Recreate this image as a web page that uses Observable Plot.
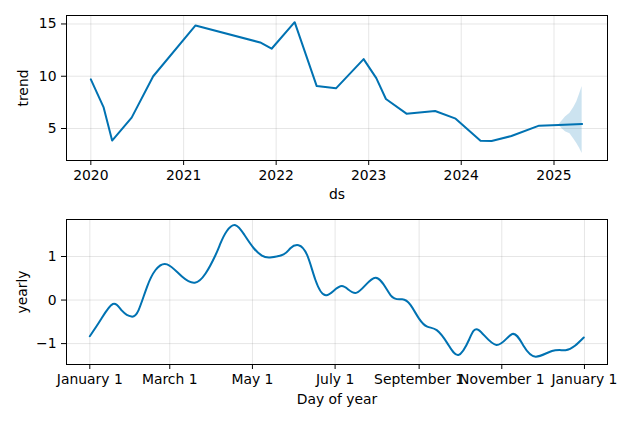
<!DOCTYPE html>
<html><head><meta charset="utf-8">
<script src="https://cdn.jsdelivr.net/npm/d3@7"></script>
<script src="https://cdn.jsdelivr.net/npm/@observablehq/plot@0.6"></script>
<style>
body{margin:0;background:#fff;}
#chart{width:634px;height:422px;}
svg{display:block;}
</style></head><body><div id="chart"></div>
<script>
// ---- Trend panel data ----
const trendDates = ["2020-01-01","2020-02-20","2020-03-25","2020-06-10","2020-09-03","2021-02-17","2021-10-30","2021-12-14","2022-03-15","2022-06-10","2022-08-25","2022-12-12","2023-01-31","2023-03-10","2023-05-30","2023-09-20","2023-12-10","2024-03-17","2024-04-30","2024-07-17","2024-11-03","2025-01-19","2025-04-22"];
const trendValues = [9.7,7.05,3.85,6.04,10.0,14.86,13.23,12.63,15.17,9.06,8.84,11.64,9.82,7.82,6.42,6.67,5.94,3.84,3.81,4.28,5.27,5.33,5.43];
const bandDates = ["2025-01-19","2025-02-01","2025-02-15","2025-03-05","2025-03-20","2025-04-01","2025-04-12","2025-04-22"];
const bandUpper = [5.33,5.7,6.1,6.45,7.0,7.55,8.3,9.03];
const bandLower = [5.33,5.0,4.7,4.5,4.0,3.56,3.1,2.62];
const trendXTicks = ["2020-01-01","2021-01-01","2022-01-01","2023-01-01","2024-01-01","2025-01-01"];
const trendYTicks = [5,10,15];

// ---- Yearly panel data ----
const yearlyDays = [0,7.9,17,23.9,30.8,36,42.3,48.5,57,68,77.5,85.4,92.7,96.4,101,107.5,114,121,127,133,143,148,154,160.4,166.5,174.6,186,197,210.8,222,230.5,236.6,242.8,249,256,264,272,280,287,300,311.7,320,329,341,351,358,364.5];
const yearlyValues = [-0.83,-0.46,-0.09,-0.25,-0.38,-0.23,0.31,0.69,0.82,0.54,0.40,0.61,1.03,1.30,1.58,1.72,1.5,1.19,1.02,0.98,1.05,1.19,1.26,1.03,0.46,0.11,0.32,0.17,0.51,0.11,0.02,-0.11,-0.42,-0.61,-0.69,-1.0,-1.26,-0.90,-0.69,-1.03,-0.78,-1.05,-1.30,-1.17,-1.15,-1.05,-0.86];
const dayTicks = ["2017-01-01","2017-03-01","2017-05-01","2017-07-01","2017-09-01","2017-11-01","2018-01-01"];
const dayTickLabels = ["January 1","March 1","May 1","July 1","September 1","November 1","January 1"];
const yearlyYTicks = [-1,0,1];

const blue = "#0072B2";
const font = {fontFamily: "DejaVu Sans", fontSize: "13.9px", color: "black", background: "white"};
const gridStyle = {stroke: "gray", strokeOpacity: 0.2, strokeWidth: 1};

const trend = trendDates.map((d, i) => ({date: new Date(d), value: trendValues[i]}));
const band = bandDates.map((d, i) => ({date: new Date(d), upper: bandUpper[i], lower: bandLower[i]}));
const tX = trendXTicks.map(d => new Date(d));

const trendPlot = Plot.plot({
  width: 634, height: 211,
  marginTop: 15, marginBottom: 51, marginLeft: 66, marginRight: 27,
  style: font,
  x: {type: "utc", domain: [new Date("2019-09-27"), new Date("2025-07-31")]},
  y: {domain: [1.94, 15.81]},
  marks: [
    Plot.gridX(tX, gridStyle),
    Plot.gridY(trendYTicks, gridStyle),
    Plot.areaY(band, {x: "date", y1: "lower", y2: "upper", fill: blue, fillOpacity: 0.2}),
    Plot.line(trend, {x: "date", y: "value", stroke: blue, strokeWidth: 2}),
    Plot.frame({stroke: "black", strokeWidth: 1}),
    Plot.axisX(tX, {tickFormat: d => String(d.getUTCFullYear()), tickSize: 5, tickPadding: 5, label: "ds", labelAnchor: "center", labelArrow: "none", labelOffset: 38}),
    Plot.axisY(trendYTicks, {tickSize: 5, tickPadding: 5, label: "trend", labelAnchor: "center", labelArrow: "none", labelOffset: 48})
  ]
});

const dayDate = d => new Date(Date.UTC(2017, 0, 1) + d * 86400000);
const yearly = yearlyDays.map((d, i) => ({date: dayDate(d), value: yearlyValues[i]}));
const dX = dayTicks.map(d => new Date(d));

const yearlyPlot = Plot.plot({
  width: 634, height: 211,
  marginTop: 8, marginBottom: 58, marginLeft: 66, marginRight: 27,
  style: font,
  x: {type: "utc", domain: [dayDate(-17.2), dayDate(382)]},
  y: {domain: [-1.48, 1.85]},
  marks: [
    Plot.gridX(dX, gridStyle),
    Plot.gridY(yearlyYTicks, gridStyle),
    Plot.line(yearly, {x: "date", y: "value", stroke: blue, strokeWidth: 2, curve: "natural"}),
    Plot.frame({stroke: "black", strokeWidth: 1}),
    Plot.axisX(dX, {tickFormat: (d, i) => dayTickLabels[i], tickSize: 5, tickPadding: 5, label: "Day of year", labelAnchor: "center", labelArrow: "none", labelOffset: 39}),
    Plot.axisY(yearlyYTicks, {tickSize: 5, tickPadding: 5, label: "yearly", labelAnchor: "center", labelArrow: "none", labelOffset: 49})
  ]
});

const chart = document.getElementById("chart");
chart.appendChild(trendPlot);
chart.appendChild(yearlyPlot);
</script>
</body></html>
